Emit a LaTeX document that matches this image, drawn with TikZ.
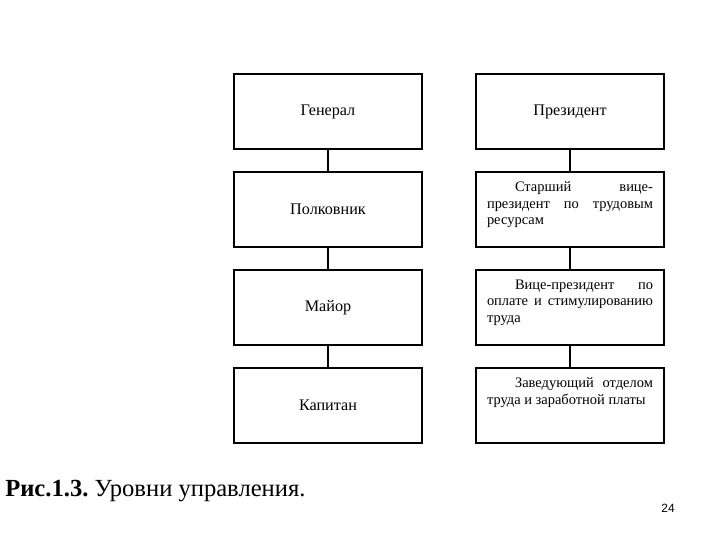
\documentclass[tikz,border=0pt]{standalone}
\usepackage{fontspec}
\setmainfont{Liberation Serif}
\setsansfont{Liberation Sans}
\usepackage{tikz}
\usetikzlibrary{positioning}

% one justified line of a post description
\newcommand{\fullline}[1]{{\spaceskip=0pt\relax\makebox[4.15cm][s]{#1}}}
\newcommand{\firstline}[1]{\hspace*{0.7cm}{\spaceskip=0pt\relax\makebox[3.45cm][s]{#1}}}

\tikzset{
  level/.style={draw, line width=0.9pt, minimum width=4.7cm, minimum height=1.875cm,
    inner sep=0pt, font=\fontsize{11.5}{12}\selectfont},
  desc/.style={anchor=north, text width=4.15cm, align=left, inner sep=0pt,
    font=\fontsize{10.3}{11.8}\selectfont},
  link/.style={line width=0.9pt}
}

\begin{document}
\begin{tikzpicture}[node distance=2.45cm,on grid]
       \useasboundingbox (0,0) rectangle (18,-13.5);

       % military ranks
       \node[level] (gen) at (8.2,-2.7875) {Генерал};
       \node[level] (pol) [below=of gen] {Полковник};
       \node[level] (maj) [below=of pol] {Майор};
       \node[level] (kap) [below=of maj] {Капитан};

       % company posts
       \node[level] (pres) [right=6.05cm of gen] {Президент};
       \node[level] (svp)  [below=of pres] {};
       \node[level] (vp)   [below=of svp] {};
       \node[level] (zav)  [below=of vp] {};

       \node[desc] (svpt) at ([yshift=-0.25cm]svp.north)
         {\firstline{Старший вице-}\\ \fullline{президент по трудовым}\\ ресурсам};
       \node[desc] (vpt) at ([yshift=-0.25cm]vp.north)
         {\firstline{Вице-президент по}\\ \fullline{оплате и стимулированию}\\ труда};
       \node[desc] (zavt) at ([yshift=-0.25cm]zav.north)
         {\firstline{Заведующий отделом}\\ \mbox{\spaceskip=0pt\relax труда и заработной платы}};

       \draw[link] (gen) -- (pol) (pol) -- (maj) (maj) -- (kap);
       \draw[link] (pres) -- (svp) (svp) -- (vp) (vp) -- (zav);

       % caption and page number
       \node[anchor=base west, inner sep=0pt, font=\fontsize{17.5}{20}\selectfont] (cap)
         at (0.125,-12.42) {\textbf{Рис.1.3.}\ Уровни управления.};
       \node[anchor=base, inner sep=0pt, font=\sffamily\fontsize{8.5}{10}\selectfont] (page)
         at (16.7,-12.8) {24};
    \end{tikzpicture}
\end{document}
